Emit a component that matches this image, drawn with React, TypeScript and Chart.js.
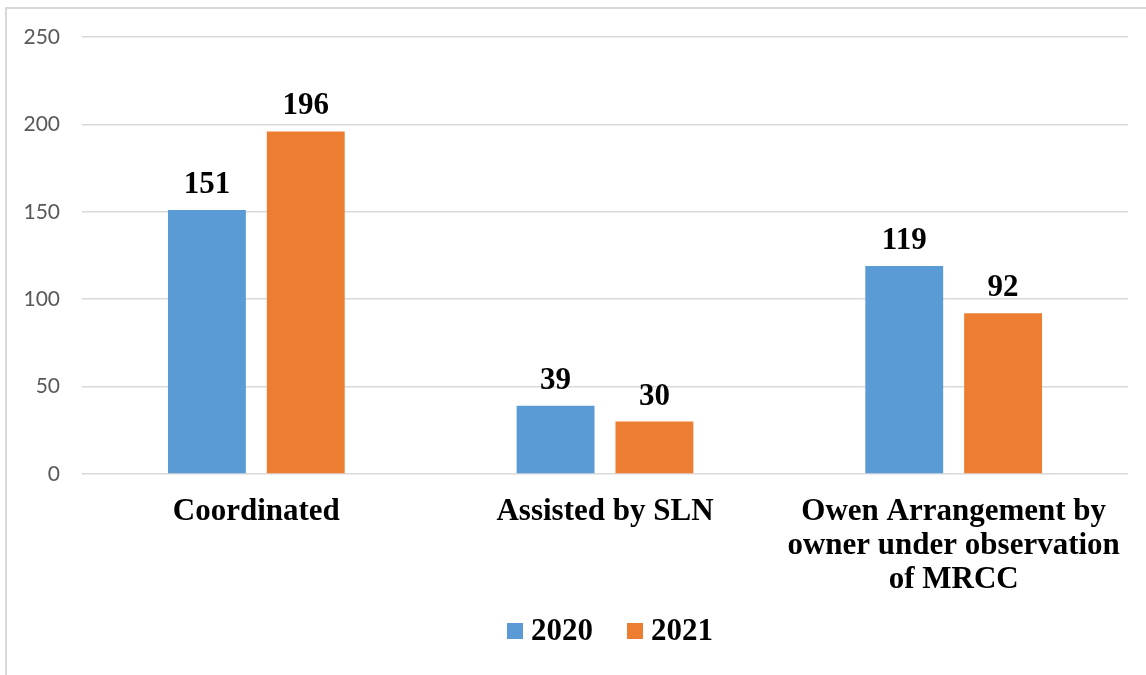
import React, { useEffect, useRef } from "react";
import { Chart, registerables } from "chart.js";

Chart.register(...registerables);

const categories: (string | string[])[] = [
  "Coordinated",
  "Assisted by SLN",
  ["Owen Arrangement by", "owner under observation", "of MRCC"],
];
const seriesNames = ["2020", "2021"];
const values2020 = [151, 39, 119];
const values2021 = [196, 30, 92];
const seriesColors = ["#5B9BD5", "#ED7D31"];
const yTicks = [0, 50, 100, 150, 200, 250];

const SERIF = '"Liberation Serif", "Times New Roman", serif';

const valueLabels = {
  id: "valueLabels",
  afterDatasetsDraw(chart: any) {
    const ctx = chart.ctx;
    ctx.save();
    ctx.font = `bold 31px ${SERIF}`;
    ctx.fillStyle = "#000000";
    ctx.textAlign = "center";
    ctx.textBaseline = "alphabetic";
    chart.data.datasets.forEach((ds: any, i: number) => {
      const meta = chart.getDatasetMeta(i);
      meta.data.forEach((bar: any, j: number) => {
        ctx.fillText(String(ds.data[j]), bar.x, bar.y - 17);
      });
    });
    ctx.restore();
  },
};

const bottomLegend = {
  id: "bottomLegend",
  afterDraw(chart: any) {
    const ctx = chart.ctx;
    ctx.save();
    ctx.font = `bold 31px ${SERIF}`;
    const box = 16;
    const gap = 8;
    const itemGap = 34;
    const widths = chart.data.datasets.map((ds: any) => ctx.measureText(ds.label).width);
    let total = 0;
    widths.forEach((w: number, i: number) => {
      total += box + gap + w + (i > 0 ? itemGap : 0);
    });
    const center = (chart.chartArea.left + chart.chartArea.right) / 2 + 5;
    let x = center - total / 2;
    const baseline = chart.chartArea.bottom + 166;
    chart.data.datasets.forEach((ds: any, i: number) => {
      ctx.fillStyle = ds.backgroundColor;
      ctx.fillRect(x, baseline - 17, box, box);
      x += box + gap;
      ctx.fillStyle = "#000000";
      ctx.textAlign = "left";
      ctx.textBaseline = "alphabetic";
      ctx.fillText(ds.label, x, baseline);
      x += widths[i] + itemGap;
    });
    ctx.restore();
  },
};

export default function App() {
  const canvasRef = useRef<HTMLCanvasElement | null>(null);

  useEffect(() => {
    if (!canvasRef.current) return;
    const chart = new Chart(canvasRef.current, {
      type: "bar",
      data: {
        labels: categories,
        datasets: [
          {
            label: seriesNames[0],
            data: values2020,
            backgroundColor: seriesColors[0],
            categoryPercentage: 0.567,
            barPercentage: 0.788,
          },
          {
            label: seriesNames[1],
            data: values2021,
            backgroundColor: seriesColors[1],
            categoryPercentage: 0.567,
            barPercentage: 0.788,
          },
        ],
      },
      options: {
        animation: false,
        responsive: false,
        maintainAspectRatio: false,
        layout: { padding: { top: 37, right: 18, left: 0, bottom: 0 } },
        plugins: {
          legend: { display: false },
          tooltip: { enabled: false },
        },
        scales: {
          x: {
            grid: { display: false, drawTicks: false },
            border: { display: false },
            ticks: {
              color: "#000000",
              font: { family: SERIF, size: 31, weight: "bold", lineHeight: 34 / 31 },
              padding: 21,
              maxRotation: 0,
              autoSkip: false,
            },
            afterFit: (scale: any) => {
              scale.height = 201;
            },
          },
          y: {
            min: 0,
            max: 250,
            afterBuildTicks: (scale: any) => {
              scale.ticks = yTicks.map((v) => ({ value: v }));
            },
            grid: { color: "#D9D9D9", lineWidth: 1.5, drawTicks: false },
            border: { display: false },
            ticks: {
              color: "#595959",
              font: { family: "Lato, Carlito, sans-serif", size: 21 },
              padding: 22,
            },
            afterFit: (scale: any) => {
              scale.width = 82;
            },
          },
        },
      },
      plugins: [valueLabels, bottomLegend],
    });
    return () => chart.destroy();
  }, []);

  return (
    <div
      style={{
        position: "absolute",
        left: 0,
        top: 0,
        width: 1146,
        height: 675,
        overflow: "hidden",
        background: "#ffffff",
      }}
    >
      <div
        style={{
          position: "absolute",
          left: 5,
          top: 7,
          width: 1200,
          height: 700,
          border: "2px solid #D9D9D9",
          boxSizing: "border-box",
        }}
      />
      <canvas
        ref={canvasRef}
        width={1146}
        height={675}
        style={{ position: "absolute", left: 0, top: 0, width: 1146, height: 675 }}
      />
    </div>
  );
}
